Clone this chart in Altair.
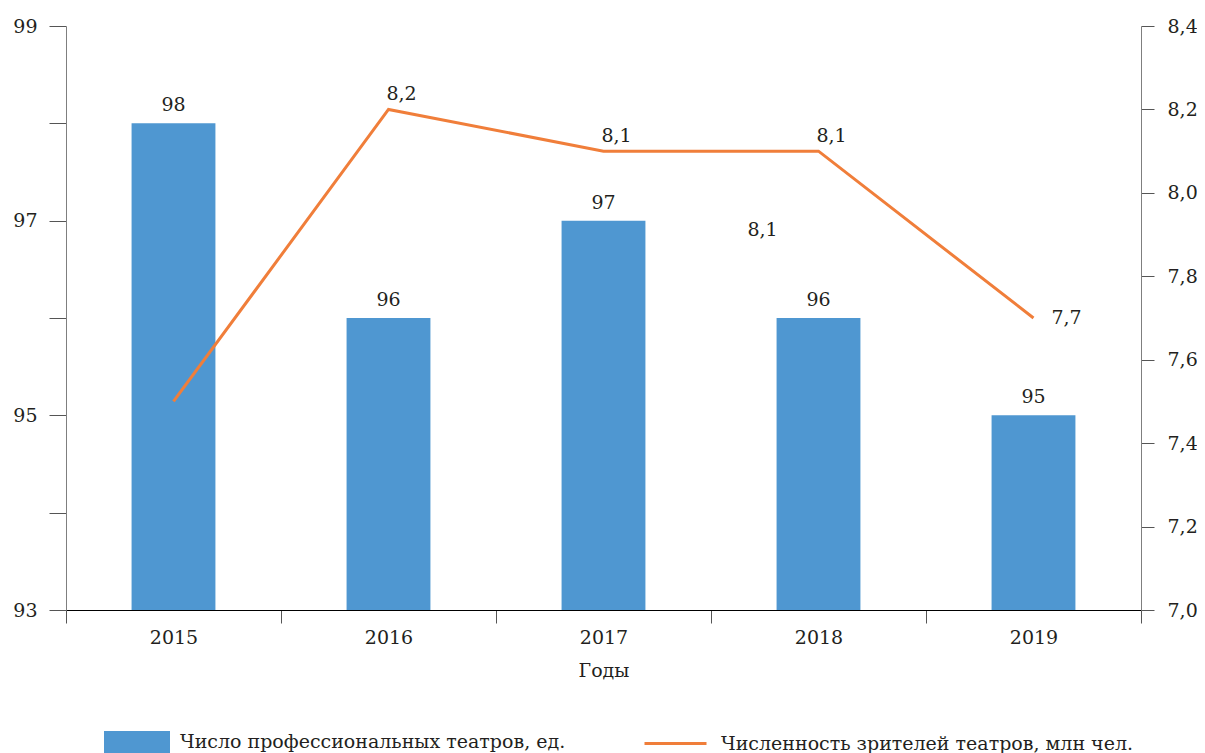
import altair as alt
import pandas as pd

years = ["2015", "2016", "2017", "2018", "2019"]
theatres = [98, 96, 97, 96, 95]
viewers = [7.5, 8.2, 8.1, 8.1, 7.7]
viewer_labels = ["", "8,2", "8,1", "8,1", "7,7"]

stray_year = ["2018"]
stray_value = [7.91]
stray_text = ["8,1"]

bar_name = "Число профессиональных театров, ед."
line_name = "Численность зрителей театров, млн чел."

BLUE = "#4f97d1"
ORANGE = "#f07e3a"
TXT = "#231f20"
FONT = "DejaVu Serif"
FS = 19

df = pd.DataFrame({"year": years, "theatres": theatres, "viewers": viewers,
                   "vlabel": viewer_labels})
df["tlabel"] = df["theatres"].astype(str)
df_stray = pd.DataFrame({"year": stray_year, "viewers": stray_value, "vlabel": stray_text})

x_enc = alt.X("year:N", sort=years,
              scale=alt.Scale(paddingInner=0, paddingOuter=0),
              axis=alt.Axis(title="Годы", tickBand="extent", labelAngle=0,
                            domainColor="#000000", tickColor="#555555",
                            tickSize=13, labelPadding=5, titlePadding=14,
                            titleFontWeight="normal"))

yL = alt.Y("theatres:Q",
           scale=alt.Scale(domain=[93, 99], nice=False, zero=False),
           axis=alt.Axis(title=None, values=[93, 94, 95, 96, 97, 98, 99],
                         labelExpr="datum.value % 2 == 1 ? datum.label : ''",
                         tickSize=17, labelPadding=12, domainColor="#7f7f7f",
                         tickColor="#555555"))

yR = alt.Y("viewers:Q",
           scale=alt.Scale(domain=[7.0, 8.4], nice=False, zero=False),
           axis=alt.Axis(title=None, orient="right",
                         values=[7.0, 7.2, 7.4, 7.6, 7.8, 8.0, 8.2, 8.4],
                         labelExpr="replace(format(datum.value, '.1f'), '.', ',')",
                         tickSize=13, labelPadding=13, domainColor="#7f7f7f",
                         tickColor="#555555"))

base = alt.Chart(df)

bars = base.mark_bar(width=alt.RelativeBandSize(0.39)).encode(
    x=x_enc, y=yL, y2=alt.datum(93),
    fill=alt.Fill("s1:N", scale=alt.Scale(domain=[bar_name], range=[BLUE]),
                  legend=alt.Legend(title=None, orient="none", legendX=38, legendY=683,
                                    symbolType="M-1,-0.333H1V0.333H-1Z", symbolSize=4356,
                                    symbolStrokeWidth=0, labelOffset=10, padding=0)),
).transform_calculate(s1="'" + bar_name + "'")

bar_labels = base.mark_text(baseline="alphabetic", dy=-12, fontSize=FS, font=FONT,
                            color=TXT).encode(x=x_enc, y=yL, text="tlabel:N")

line = base.mark_line(strokeWidth=3).encode(
    x=x_enc, y=yR,
    stroke=alt.Stroke("s2:N", scale=alt.Scale(domain=[line_name], range=[ORANGE]),
                      legend=alt.Legend(title=None, orient="none", legendX=577, legendY=685,
                                        symbolType="stroke", symbolSize=3844,
                                        symbolStrokeWidth=3, labelOffset=13, padding=0)),
).transform_calculate(s2="'" + line_name + "'")

line_labels = base.mark_text(baseline="alphabetic", dx=13, dy=-9, fontSize=FS, font=FONT,
                             color=TXT).encode(x=x_enc, y=yR, text="vlabel:N"
                             ).transform_filter("datum.year != '2015' && datum.year != '2019'")

last_label = base.mark_text(baseline="middle", dx=33, fontSize=FS, font=FONT,
                            color=TXT).encode(x=x_enc, y=yR, text="vlabel:N"
                            ).transform_filter("datum.year == '2019'")

stray = alt.Chart(df_stray).mark_text(baseline="middle", dx=-56, fontSize=FS, font=FONT,
                                      color=TXT).encode(x=x_enc, y=yR, text="vlabel:N")

left = alt.layer(bars, bar_labels)
right = alt.layer(line, line_labels, last_label, stray)

chart = alt.layer(left, right).resolve_scale(y="independent").properties(
    width=1075, height=584,
    autosize=alt.AutoSizeParams(type="none"),
    padding={"left": 58, "top": 18, "right": 56, "bottom": 143},
).configure_view(stroke=None).configure_axis(
    grid=False, labelFont=FONT, labelFontSize=FS, labelColor=TXT,
    titleFont=FONT, titleFontSize=FS, titleColor=TXT, titleFontWeight="normal",
).configure_legend(labelFont=FONT, labelFontSize=19, labelColor=TXT, labelLimit=0)

chart.save("out.html", embed_options={"renderer": "svg", "actions": False})
